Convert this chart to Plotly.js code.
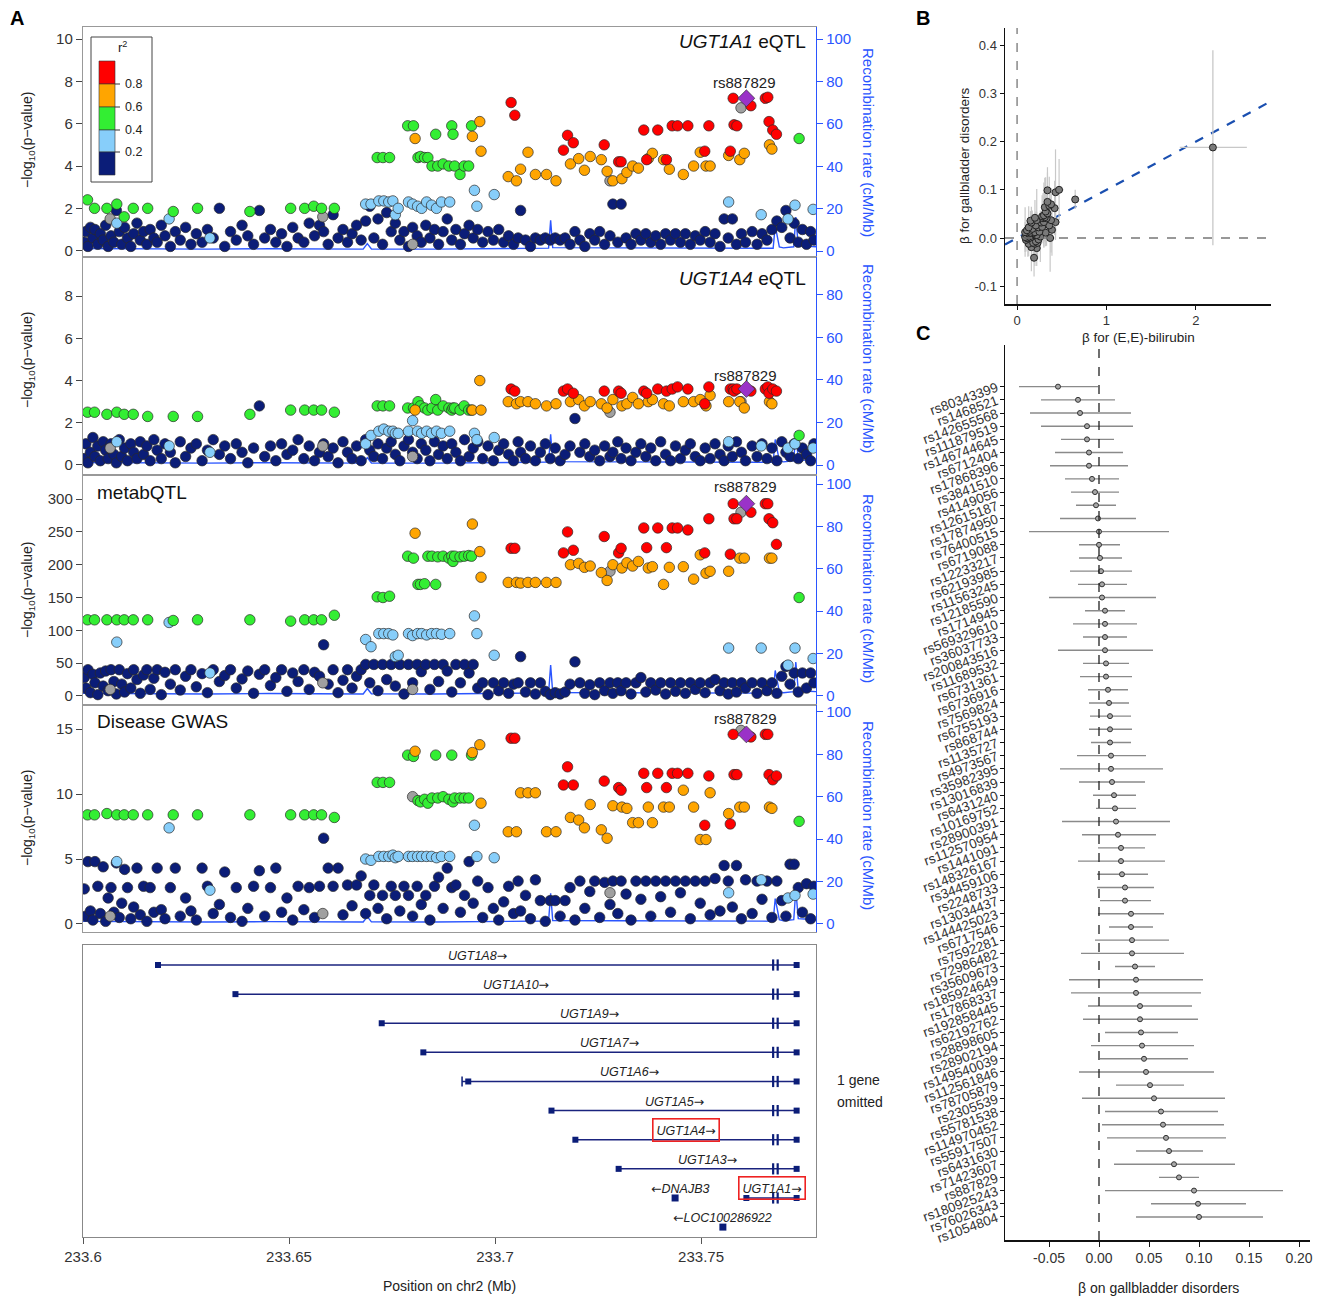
<!DOCTYPE html>
<html>
<head>
<meta charset="utf-8">
<script src="https://cdn.plot.ly/plotly-3.0.1.min.js"></script>
<style>
  html, body { margin: 0; padding: 0; background: #fff; }
  #fig { width: 1325px; height: 1298px; }
</style>
</head>
<body>
<div id="fig"></div>
<script>
// ---- Panel A: SNPs with r2 < 0.2 (navy), -log10 p per study ----
const navyPos = [
  233.6003,233.6007,233.6012,233.6018,233.6024,233.6029,233.6036,233.6042,233.6049,233.6055,
  233.6061,233.6068,233.6075,233.6081,233.6088,233.6094,233.6101,233.6108,233.6116,233.6123,
  233.6131,233.6139,233.6147,233.6155,233.6163,233.6172,233.6180,233.6190,233.6199,233.6212,
  233.6224,233.6236,233.6249,233.6262,233.6275,233.6289,233.6302,233.6316,233.6331,233.6344,
  233.6358,233.6372,233.6386,233.6400,233.6414,233.6428,233.6441,233.6455,233.6468,233.6482,
  233.6495,233.6509,233.6522,233.6536,233.6549,233.6562,233.6574,233.6584,233.6595,233.6607,
  233.6619,233.6631,233.6642,233.6653,233.6664,233.6675,233.6686,233.6696,233.6706,233.6716,
  233.6727,233.6737,233.6748,233.6758,233.6769,233.6779,233.6790,233.6800,233.6811,233.6821,
  233.6832,233.6842,233.6853,233.6863,233.6874,233.6884,233.6895,233.6905,233.6916,233.6926,
  233.6937,233.6947,233.6958,233.6970,233.6983,233.6996,233.7009,233.7021,233.7033,233.7045,
  233.7056,233.7062,233.7074,233.7086,233.7098,233.7110,233.7122,233.7134,233.7146,233.7158,
  233.7170,233.7182,233.7194,233.7206,233.7218,233.7230,233.7242,233.7254,233.7266,233.7279,
  233.7286,233.7298,233.7306,233.7318,233.7330,233.7342,233.7354,233.7366,233.7378,233.7390,
  233.7402,233.7414,233.7426,233.7438,233.7450,233.7462,233.7474,233.7486,233.7498,233.7510,
  233.7522,233.7534,233.7546,233.7556,233.7566,233.7576,233.7586,233.7598,233.7608,233.7624,
  233.7636,233.7648,233.7660,233.7672,233.7684,233.7696,233.7706,233.7716,233.7726,233.7736,
  233.7746,233.7756,233.7766,233.7774
];
const navyP1 = [
  0.4,0.9,0.2,1.1,0.6,1.0,0.3,0.8,0.5,1.2, 0.2,0.7,0.4,1.9,0.9,0.3,1.1,0.6,0.2,0.8,
  1.3,0.5,0.9,0.3,1.0,0.6,0.4,1.2,0.7,0.2, 0.9,0.5,1.1,0.3,0.8,0.4,1.0,0.6,2.0,0.2,
  0.9,0.5,1.2,0.7,0.3,1.9,0.6,1.0,0.4,0.8, 0.2,1.1,0.6,0.4,1.3,0.7,1.2,0.9,0.3,1.7,
  0.6,1.0,0.4,0.8,1.2,0.5,1.4,2.1,0.6,1.5, 0.3,1.8,0.9,1.3,0.5,0.9,0.2,1.1,0.7,0.4,
  1.2,0.6,1.0,0.3,0.9,1.5,0.5,1.0,0.3,0.8, 1.2,0.6,1.0,0.4,0.9,0.5,1.0,0.4,0.7,0.3,
  0.6,1.9,0.5,0.2,0.6,0.5,0.6,0.5,0.6,0.5, 0.6,0.3,0.9,0.5,0.2,0.8,0.5,0.9,0.3,0.7,
  2.2,0.4,2.2,0.6,0.3,0.8,0.5,0.8,0.4,0.7, 0.3,0.8,0.5,0.8,0.4,0.8,0.3,0.7,0.5,0.9,
  0.4,0.8,0.2,1.5,0.6,1.5,0.3,0.8,0.4,0.9, 0.3,0.8,0.5,1.0,1.4,1.1,1.9,0.6,1.3,0.4,
  1.0,0.3,0.9,0.5
];
const navyP2 = [
  0.3,1.0,0.1,0.6,1.3,0.4,0.9,0.2,1.1,0.7, 0.3,1.0,0.5,0.1,1.2,0.4,0.8,0.2,1.0,0.6,
  0.3,1.1,0.5,0.9,0.2,1.2,0.7,0.3,1.0,0.6, 0.1,1.1,0.4,0.8,1.0,0.2,0.7,1.2,0.5,0.9,
  0.3,1.0,0.6,0.1,0.8,2.8,0.4,0.9,0.2,1.0, 0.5,0.7,1.2,0.3,0.9,0.2,0.6,1.0,0.4,0.8,
  0.1,1.1,0.6,0.3,0.9,0.2,1.2,0.7,0.4,1.0, 0.3,0.8,1.1,0.5,0.2,0.9,1.2,0.6,0.3,1.0,
  0.7,0.2,1.1,0.5,0.9,0.3,1.0,0.6,0.2,1.2, 0.4,0.8,1.1,0.3,0.9,0.2,0.7,1.0,0.5,0.2,
  1.1,0.6,0.3,0.9,0.2,0.6,1.0,0.3,0.8,0.2, 0.5,0.9,2.2,0.6,1.0,0.4,0.7,0.2,0.9,0.4,
  0.6,1.1,0.3,0.8,0.2,0.6,1.0,0.4,0.8,0.2, 1.1,0.5,0.2,0.9,0.3,0.7,1.0,0.4,0.2,0.8,
  0.3,1.0,0.5,0.2,0.9,0.4,1.1,0.6,0.2,0.9, 0.4,1.0,0.3,0.8,0.2,1.1,0.6,0.4,1.0,0.3,
  0.8,0.5,0.2,1.0
];
const navyP3 = [
  28,12,40,5,33,20,2,35,15,38, 8,40,22,3,40,18,6,34,12,40,
  25,4,32,40,10,27,40,2,36,18, 40,9,30,40,14,34,5,40,22,31,
  40,12,26,38,4,33,40,16,28,40, 7,35,22,40,10,36,30,78,18,40,
  5,24,40,12,30,40,48,20,48,8, 48,25,48,15,48,3,48,20,48,37,
  48,10,48,22,48,38,6,48,20,48, 35,48,12,20,2,20,8,20,4,18,
  20,60,6,20,3,20,7,2,5,3, 6,18,52,20,4,17,2,20,8,20,
  4,20,8,20,3,20,28,6,20,9, 20,3,20,7,20,4,20,10,20,5,
  20,25,8,20,3,20,6,20,12,20, 4,20,8,20,4,30,45,18,35,6,
  35,12,35,20
];
const navyP4 = [
  2.7,0.6,4.8,1.0,0.3,4.8,2.9,0.8,4.4,0.2, 2.0,2.8,0.9,4.7,0.5,1.6,4.2,2.8,0.4,1.3,
  4.3,0.7,2.9,0.2,2.8,0.9,4.3,1.1,0.4,2.8, 4.3,0.6,2.0,1.0,0.3,4.3,2.9,0.8,1.5,4.0,
  0.5,2.8,0.2,1.2,2.9,4.1,0.6,2.8,4.3,0.9, 2.0,0.3,2.9,1.1,2.8,0.5,2.9,6.6,4.3,2.9,
  4.3,0.7,3.0,1.4,3.0,3.7,0.8,2.2,3.0,1.2, 2.2,0.4,2.9,2.2,1.0,2.9,2.2,0.6,2.9,1.5,
  2.2,0.3,2.9,3.6,1.2,4.3,2.8,3.0,0.9,2.2, 4.8,1.6,3.3,0.5,2.8,1.2,0.3,1.7,2.9,0.8,
  3.3,1.0,2.2,0.4,3.4,1.8,0.2,1.8,1.8,0.6, 1.8,2.8,0.3,3.3,1.2,2.5,3.3,0.5,3.2,1.5,
  3.3,0.8,3.3,2.3,0.3,3.3,1.9,3.3,0.6,3.3, 2.1,3.3,0.9,3.3,2.4,3.3,0.4,3.3,1.6,3.3,
  0.7,3.5,1.0,4.5,3.3,1.3,4.5,0.4,3.4,0.8, 3.3,1.9,3.3,0.5,3.3,1.8,0.6,4.6,4.6,2.8,
  0.9,3.1,0.4,2.9
];

// ---- Panel A: SNPs in LD with rs887829 (r = >0.8, o = 0.6-0.8, g = 0.4-0.6, l = 0.2-0.4, x = no r2) ----
const ldPos = [
  233.6011,233.6028,233.6058,233.6082,233.6100,233.6122,233.6157,233.6219,233.6278,233.6405,
  233.6504,233.6538,233.6560,233.6579,233.6610,233.6082,233.6209,233.6308,233.6714,233.6728,
  233.6744,233.6788,233.6802,233.6806,233.6813,233.6819,233.6829,233.6837,233.6847,233.6856,
  233.6861,233.6874,233.6888,233.6895,233.6898,233.6902,233.6915,233.6925,233.6936,233.6943,
  233.6945,233.6963,233.6966,233.6686,233.6699,233.6718,233.6730,233.6742,233.6752,233.6758,
  233.6765,233.6790,233.6800,233.6812,233.6822,233.6834,233.6846,233.6858,233.6870,233.6890,
  233.6950,233.6956,233.6998,233.7032,233.7039,233.7048,233.7052,233.7062,233.7080,233.7098,
  233.7125,233.7148,233.7166,233.7176,233.7183,233.7190,233.7203,233.7217,233.7231,233.7258,
  233.7265,233.7272,233.7279,233.7286,233.7300,233.7306,233.7308,233.7320,233.7334,233.7348,
  233.7361,233.7368,233.7372,233.7382,233.7395,233.7409,233.7416,233.7423,233.7430,233.7443,
  233.7457,233.7468,233.7482,233.7498,233.7509,233.7512,233.7519,233.7522,233.7567,233.7571,
  233.7578,233.7580,233.7587,233.7594,233.7597,233.7605,233.7621,233.7656,233.7662,233.7665,
  233.7666,233.7672,233.7674,233.7683,233.7738,233.7567,233.7646,233.7711,233.7728,233.7772,
  233.6066,233.6582,233.6800
];
const ldClass = ("gggggggggg" + "ggggglllgg" + "gggogggggg" + "gggggggggg" + "ooolllllll" +
  "llllllllll" + "lllorroooo" + "oorroroooo" + "roxorroooo" + "rroorororr" +
  "oroororoor" + "rrroxorrrr" + "oorrglllll" + "xxx").split("");
const ldP1 = [
  2.4,2.0,2.0,2.2,1.6,2.0,2.0,1.85,2.0,1.85, 2.0,2.0,2.1,2.0,2.0,1.3,1.5,0.6,4.4,4.4,
  4.4,5.9,5.9,5.3,4.4,4.45,4.4,4.4,4.0,5.5, 4.0,4.1,4.0,5.9,5.5,4.0,3.6,4.0,4.0,5.9,
  5.4,6.1,4.7,2.2,2.2,2.35,2.35,2.3,2.35,1.7, 2.0,2.3,2.2,2.1,2.0,2.3,2.15,2.0,2.3,2.3,
  2.85,2.1,2.65,3.5,7.0,6.4,3.3,3.85,4.65,3.6, 3.6,3.3,4.75,5.45,4.1,5.1,4.35,3.8,4.45,4.3,
  5.0,3.75,3.3,3.3,4.2,4.2,3.4,3.7,4.0,3.9, 5.7,4.3,4.35,4.6,5.7,4.3,4.3,3.85,5.9,5.9,
  3.6,5.9,4.0,4.65,4.7,4.0,5.9,4.0,4.5,4.7, 7.2,5.95,5.9,4.3,6.75,4.6,6.85,7.2,7.25,6.1,
  5.0,4.8,5.7,5.5,5.3,2.3,1.7,1.5,2.15,1.95, 1.5,1.6,0.3
];
const ldP2 = [
  2.5,2.5,2.4,2.5,2.4,2.4,2.3,2.3,2.3,2.4, 2.6,2.6,2.6,2.6,2.5,1.1,0.9,0.6,2.8,2.8,
  2.8,2.7,2.7,2.6,3.0,2.8,2.7,2.6,2.7,3.1, 2.6,2.8,2.7,2.6,2.7,2.7,2.6,2.8,2.6,2.6,
  2.6,4.0,2.6,1.0,1.4,1.6,1.7,1.6,1.6,1.5, 1.5,1.6,2.1,1.6,1.5,1.6,1.5,1.6,1.5,1.6,
  1.5,1.2,1.3,3.0,3.6,3.5,2.9,3.0,3.0,2.9, 2.8,2.9,3.5,3.6,3.0,3.4,3.1,2.8,3.0,2.9,
  3.5,2.7,2.5,3.1,3.5,3.4,2.8,2.9,3.2,2.9, 3.5,3.4,3.0,3.1,3.6,2.9,3.5,2.8,3.6,3.7,
  3.0,3.6,3.0,3.1,2.9,2.8,3.7,3.3,3.0,3.6, 3.6,3.5,3.6,3.0,3.0,2.7,3.5,3.6,3.7,3.4,
  3.0,2.9,3.6,3.5,1.4,1.1,0.9,0.8,1.0,0.8, 0.8,0.9,0.4
];
const ldP3 = [
  116,116,116,116,116,116,116,115,116,116, 114,116,116,116,123,82,112,35,151,150,
  152,213,210,248,170,170,171,213,213,170, 212,213,210,213,205,213,212,213,214,213,
  262,220,181,86,75,95,95,95,93,60, 62,95,92,95,95,93,95,95,94,95,
  122,95,62,173,225,225,173,172,173,173, 173,173,218,250,200,222,202,196,198,188,
  243,176,190,200,218,225,195,203,198,205, 256,226,195,197,256,170,226,196,256,256,
  197,253,178,215,218,187,270,190,190,216, 293,270,270,210,280,210,280,293,293,270,
  210,210,264,231,150,73,73,47,73,57, 10,20,10
];
const ldP4 = [
  8.4,8.4,8.5,8.4,8.4,8.4,8.4,8.4,8.4,8.4, 8.4,8.4,8.4,8.4,8.2,4.8,7.4,2.6,10.9,10.9,
  10.9,13.0,12.9,13.3,9.5,9.4,9.6,9.3,9.7,13.0, 9.7,9.8,9.6,13.0,9.4,9.7,9.7,9.7,9.7,13.0,
  13.2,13.8,9.3,5.0,4.9,5.2,5.2,5.2,5.3,5.1, 5.2,5.2,5.2,5.2,5.2,5.2,5.2,5.1,5.2,5.2,
  7.6,5.2,5.1,7.1,14.3,14.3,7.1,10.1,10.1,10.1, 7.1,7.1,10.7,12.1,8.2,10.7,8.0,7.4,9.2,7.25,
  11.0,6.6,2.4,9.1,10.5,10.3,9.0,8.9,7.8,7.8, 11.6,10.5,9.0,7.8,11.6,9.0,10.5,9.0,11.6,11.6,
  10.3,11.6,9.0,6.5,7.6,6.5,11.4,10.1,8.5,7.7, 14.6,11.5,11.5,9.0,14.9,9.0,14.4,14.6,14.6,11.5,
  9.0,8.9,11.1,11.4,7.9,2.4,3.4,2.0,2.2,2.3, 0.6,0.8,9.8
];

// lead SNP
const leadSnp = "rs887829";
const leadPos = 233.7610;
const leadP = [7.2, 3.6, 293, 14.6];

// recombination rate (cM/Mb)
const recombPos = [233.6000,233.6150,233.6300,233.6450,233.6600,233.6680,233.6690,233.6700,233.6850,233.7000,
  233.7130,233.7135,233.7140,233.7300,233.7450,233.7600,233.7675,233.7680,233.7690,233.7700,
  233.7725,233.7730,233.7736,233.7760,233.7779];
const recombRate = [1.2,1.0,0.9,1.1,0.8,0.9,3.5,1.0,0.9,1.3, 1.4,14.5,1.6,1.5,1.4,1.2,1.3,12.0,2.0,1.5, 2.0,16.0,2.5,2.2,2.0];

// ---- gene track ----
const geneNames = ["UGT1A8","UGT1A10","UGT1A9","UGT1A7","UGT1A6","UGT1A5","UGT1A4","UGT1A3","UGT1A1","DNAJB3","LOC100286922"];
const geneStart = [233.6182,233.6370,233.6725,233.6826,233.6920,233.7137,233.7195,233.7300,233.7610,233.7435,233.7551];
const geneEnd   = [233.7732,233.7732,233.7732,233.7732,233.7732,233.7732,233.7732,233.7732,233.7732,233.7439,233.7555];
const geneFirstExon = [233.6182,233.6370,233.6725,233.6826,233.6935,233.7137,233.7195,233.7300,233.7610,233.7437,233.7553];
const geneStrand = ["+","+","+","+","+","+","+","+","+","-","-"];
const geneRow = [1,2,3,4,5,6,7,8,9,9,10];
const sharedExons = [233.7675, 233.7686, 233.7732];
const boxedGenes = ["UGT1A4","UGT1A1"];
const posTicks = [233.6, 233.65, 233.7, 233.75];
const posTickText = ["233.6", "233.65", "233.7", "233.75"];

// ---- Panel C: per-SNP effect on gallbladder disorders (95% CI) ----
const snpIds = ["rs80343399","rs1468521","rs142655568","rs111879519","rs146744645","rs6712404","rs17868396","rs3841510","rs4149056","rs12615187",
  "rs17874950","rs76400515","rs6719088","rs12233217","rs62193985","rs11563245","rs12185590","rs1714945","rs569329610","rs36037733",
  "rs200843516","rs11689532","rs6731361","rs6736916","rs7569824","rs6755193","rs868744","rs1135727","rs4973567","rs35982395",
  "rs13016839","rs6431240","rs10169752","rs28900391","rs112570954","rs1441091","rs148326167","rs34459106","rs2248733","rs13034437",
  "rs144425023","rs6717546","rs7592281","rs72986482","rs35609673","rs185924649","rs17868337","rs192858445","rs62192762","rs28898605",
  "rs28902194","rs149540039","rs112561846","rs78705879","rs2305539","rs55781538","rs114970452","rs55917507","rs6431630","rs71423607",
  "rs887829","rs180925243","rs76026343","rs1054804"];
const gbBeta = [-0.041,-0.021,-0.019,-0.012,-0.012,-0.010,-0.010,-0.007,-0.004,-0.003,
  -0.001,0.000,0.000,0.001,0.002,0.003,0.003,0.006,0.006,0.006,
  0.006,0.007,0.007,0.009,0.010,0.011,0.011,0.011,0.012,0.012,
  0.013,0.015,0.016,0.017,0.019,0.022,0.022,0.023,0.026,0.026,
  0.032,0.032,0.033,0.033,0.036,0.037,0.037,0.041,0.041,0.042,
  0.043,0.045,0.047,0.051,0.055,0.062,0.064,0.067,0.070,0.075,
  0.080,0.095,0.099,0.100];
const gbLo = [-0.080,-0.058,-0.069,-0.058,-0.038,-0.044,-0.049,-0.034,-0.028,-0.023,
  -0.039,-0.070,-0.020,-0.020,-0.029,-0.021,-0.050,-0.014,-0.026,-0.016,
  -0.041,-0.016,-0.019,-0.011,-0.010,-0.009,-0.010,-0.008,-0.022,-0.039,
  -0.020,-0.006,-0.003,-0.037,-0.017,-0.001,-0.021,-0.002,-0.002,0.001,
  -0.001,0.010,-0.004,-0.018,0.016,-0.030,-0.028,-0.011,-0.016,0.006,
  -0.008,0.001,-0.020,0.017,-0.017,0.006,0.003,0.008,0.037,0.015,
  0.060,0.006,0.052,0.037];
const gbHi = [-0.001,0.016,0.032,0.034,0.015,0.024,0.029,0.020,0.020,0.017,
  0.037,0.070,0.021,0.023,0.033,0.028,0.057,0.026,0.038,0.028,
  0.054,0.030,0.033,0.029,0.030,0.032,0.033,0.032,0.047,0.064,
  0.046,0.037,0.037,0.071,0.057,0.046,0.066,0.049,0.055,0.052,
  0.065,0.054,0.070,0.085,0.056,0.104,0.102,0.093,0.099,0.079,
  0.095,0.089,0.115,0.085,0.126,0.119,0.125,0.127,0.104,0.136,
  0.100,0.184,0.147,0.164];
const gbTicks = [-0.05, 0, 0.05, 0.10, 0.15, 0.20];
const gbTickText = ["-0.05", "0.00", "0.05", "0.10", "0.15", "0.20"];

// ---- Panel B: effect on (E,E)-bilirubin for the same SNPs ----
const bxBeta = [0.19,0.22,0.16,0.20,0.13,0.23,0.18,0.21,0.10,0.24,
  0.12,0.37,0.11,0.15,0.09,0.17,0.26,0.11,0.14,0.19,
  0.22,0.10,0.16,0.13,0.18,0.12,0.32,0.15,0.20,0.09,
  0.25,0.14,0.11,0.39,0.17,0.24,0.13,0.28,0.21,0.36,
  0.16,0.27,0.43,0.30,0.15,0.38,0.22,0.29,0.33,0.20,
  0.31,0.28,0.30,0.34,0.32,0.42,0.31,0.36,0.38,0.34,
  0.65,0.43,0.34,0.47];
const bxSe = [0.03,0.03,0.04,0.03,0.03,0.03,0.04,0.03,0.03,0.03,
  0.04,0.05,0.02,0.03,0.03,0.02,0.04,0.03,0.02,0.03,
  0.03,0.02,0.03,0.02,0.03,0.02,0.04,0.02,0.03,0.02,
  0.03,0.02,0.02,0.05,0.03,0.03,0.02,0.04,0.03,0.04,
  0.02,0.03,0.05,0.04,0.02,0.05,0.03,0.03,0.04,0.03,
  0.03,0.03,0.04,0.04,0.03,0.05,0.03,0.04,0.04,0.03,
  0.03,0.05,0.04,0.05];
// outlying instrument
const outBx = [2.19], outBxLo = [1.82], outBxHi = [2.57];
const outGb = [0.188], outGbLo = [-0.015], outGbHi = [0.39];
const ivwSlope = 0.1;
const bRangeX = [-0.135, 2.84];
const bRangeY = [-0.137, 0.436];

// ---------------------------------------------------------------
const W = 1325, H = 1298;
const FONT = "Liberation Sans, Arial, sans-serif";
const fx = (p) => p / W;
const fy = (p) => 1 - p / H;
const domX = (a, b) => [fx(a), fx(b)];
const domY = (top, bottom) => [fy(bottom), fy(top)];
const axKey = (a) => a[0] + "axis" + a.slice(1);

const ldColors = { r: "#ff0000", o: "#ffa500", g: "#33ee33", l: "#87cefa", x: "#a0a0a0" };
const NAVY = "#0b1d78";
const RECOMB = "#2a55ff";

const locus = [
  { xa: "x",  ya: "y",  yr: "y2", top: 27,  bottom: 257, yRange: [-0.3, 10.57], rRange: [-2.8, 105.7], ticks: [0,2,4,6,8,10] },
  { xa: "x2", ya: "y3", yr: "y4", top: 257, bottom: 474, yRange: [-0.43, 9.86], rRange: [-4.2, 97.7],  ticks: [0,2,4,6,8] },
  { xa: "x3", ya: "y5", yr: "y6", top: 476, bottom: 705, yRange: [-13.8, 335.2], rRange: [-4.3, 103.8], ticks: [0,50,100,150,200,250,300] },
  { xa: "x4", ya: "y7", yr: "y8", top: 705, bottom: 932, yRange: [-0.62, 16.86], rRange: [-3.8, 103.3], ticks: [0,5,10,15] },
];
const navyVals = [navyP1, navyP2, navyP3, navyP4];
const ldVals = [ldP1, ldP2, ldP3, ldP4];
const xRangeA = [233.6, 233.7779];

function dots(x, y, color, xa, ya) {
  return {
    type: "scatter", mode: "markers", x, y, xaxis: xa, yaxis: ya, hoverinfo: "skip",
    marker: { size: 10.5, color, line: { color: "#2a2a2a", width: 0.7 } },
  };
}

const traces = [];
const layout = {
  width: W, height: H, margin: { l: 0, r: 0, t: 0, b: 0 },
  paper_bgcolor: "#fff", plot_bgcolor: "rgba(0,0,0,0)",
  showlegend: false, font: { family: FONT, color: "#222" },
  annotations: [], shapes: [],
};

locus.forEach((p, k) => {
  traces.push({
    type: "scatter", mode: "lines", x: recombPos, y: recombRate, xaxis: p.xa, yaxis: p.yr,
    line: { color: RECOMB, width: 1.4 }, hoverinfo: "skip",
  });
  traces.push(dots(navyPos, navyVals[k], NAVY, p.xa, p.ya));
  for (const c of ["x", "l", "g", "o", "r"]) {
    const xs = [], ys = [];
    ldPos.forEach((pos, i) => { if (ldClass[i] === c) { xs.push(pos); ys.push(ldVals[k][i]); } });
    traces.push(dots(xs, ys, ldColors[c], p.xa, p.ya));
  }
  traces.push({
    type: "scatter", mode: "markers", x: [leadPos], y: [leadP[k]], xaxis: p.xa, yaxis: p.ya,
    marker: { symbol: "diamond", size: 13, color: "#9a32c8", line: { color: "#333", width: 0.7 } },
  });

  layout[axKey(p.xa)] = {
    domain: domX(83, 816), range: xRangeA, anchor: p.yr,
    showline: true, mirror: true, linecolor: "#999", linewidth: 1.2,
    showgrid: false, zeroline: false, showticklabels: false, ticks: "",
  };
  layout[axKey(p.yr)] = {
    domain: domY(p.top, p.bottom), range: p.rRange, anchor: p.xa, side: "right",
    showline: true, linecolor: RECOMB, linewidth: 1.2, ticks: "outside", ticklen: 6, tickcolor: RECOMB,
    tickvals: [0,20,40,60,80,100], tickfont: { family: FONT, size: 15, color: RECOMB },
    showgrid: false, zeroline: false,
  };
  layout[axKey(p.ya)] = {
    overlaying: p.yr, range: p.yRange, anchor: p.xa, side: "left",
    showline: true, linecolor: "#999", linewidth: 1.2, ticks: "outside", ticklen: 6, tickcolor: "#444",
    tickvals: p.ticks, tickfont: { family: FONT, size: 15, color: "#333" },
    showgrid: false, zeroline: false,
  };
});

// ---- gene track ----
const ARROW = "<span style='font-family:DejaVu Sans'>→</span>";
const LARROW = "<span style='font-family:DejaVu Sans'>←</span>";
geneNames.forEach((g, i) => {
  const isUgt = g.startsWith("UGT1A");
  if (isUgt) {
    traces.push({
      type: "scatter", mode: "lines", x: [geneStart[i], geneEnd[i]], y: [geneRow[i], geneRow[i]],
      xaxis: "x5", yaxis: "y9", line: { color: "#1a237e", width: 1.5 }, hoverinfo: "skip",
    });
    traces.push({
      type: "scatter", mode: "markers", x: [geneFirstExon[i], sharedExons[2]], y: [geneRow[i], geneRow[i]],
      xaxis: "x5", yaxis: "y9", marker: { symbol: "square", size: 6, color: "#0b1d78" }, hoverinfo: "skip",
    });
    traces.push({
      type: "scatter", mode: "markers", x: sharedExons.slice(0, 2), y: [geneRow[i], geneRow[i]],
      xaxis: "x5", yaxis: "y9", marker: { symbol: "line-ns", size: 8, line: { color: "#0b1d78", width: 2.2 } },
      hoverinfo: "skip",
    });
    if (geneStart[i] < geneFirstExon[i]) {
      traces.push({
        type: "scatter", mode: "markers", x: [geneStart[i]], y: [geneRow[i]],
        xaxis: "x5", yaxis: "y9", marker: { symbol: "line-ns", size: 7, line: { color: "#0b1d78", width: 1.5 } },
        hoverinfo: "skip",
      });
    }
  } else {
    traces.push({
      type: "scatter", mode: "markers", x: [geneFirstExon[i]], y: [geneRow[i]],
      xaxis: "x5", yaxis: "y9", marker: { symbol: "square", size: 7, color: "#0b1d78" }, hoverinfo: "skip",
    });
  }
  const name = "<i>" + g + "</i>";
  const label = geneStrand[i] === "+" ? name + ARROW : LARROW + name;
  const boxed = boxedGenes.includes(g);
  layout.annotations.push({
    text: label, x: (geneStart[i] + geneEnd[i]) / 2 + (g === "DNAJB3" ? 0.0012 : 0),
    y: geneRow[i] - 0.33, xref: "x5", yref: "y9", xanchor: "center", yanchor: "middle",
    showarrow: false, font: { family: FONT, size: 12.5, color: "#222" },
    bordercolor: boxed ? "#ee2222" : "rgba(0,0,0,0)", borderwidth: boxed ? 1.6 : 0, borderpad: 3,
  });
});
layout.xaxis5 = {
  domain: domX(83, 816), range: xRangeA, anchor: "y9",
  showline: true, mirror: true, linecolor: "#888", linewidth: 1.2,
  ticks: "outside", ticklen: 6, tickcolor: "#555", tickvals: posTicks, ticktext: posTickText,
  tickfont: { family: FONT, size: 15, color: "#333" }, showgrid: false, zeroline: false,
};
layout.yaxis9 = {
  domain: domY(945, 1237), range: [10.34, 0.313], anchor: "x5",
  showline: true, mirror: true, linecolor: "#888", linewidth: 1.2,
  showticklabels: false, ticks: "", showgrid: false, zeroline: false,
};

// ---- Panel B ----
traces.push({
  type: "scatter", mode: "lines", x: bRangeX, y: bRangeX.map((v) => v * ivwSlope),
  xaxis: "x6", yaxis: "y10", line: { color: "#1a4fb0", width: 2.2, dash: "dash" }, hoverinfo: "skip",
});
traces.push({
  type: "scatter", mode: "markers", x: outBx, y: outGb, xaxis: "x6", yaxis: "y10",
  error_x: { type: "data", symmetric: false, array: [outBxHi[0] - outBx[0]], arrayminus: [outBx[0] - outBxLo[0]], color: "#c8c8c8", thickness: 1.3, width: 0 },
  error_y: { type: "data", symmetric: false, array: [outGbHi[0] - outGb[0]], arrayminus: [outGb[0] - outGbLo[0]], color: "#c8c8c8", thickness: 1.3, width: 0 },
  marker: { size: 7, color: "#7a7a7a", line: { color: "#222", width: 1 } },
});
traces.push({
  type: "scatter", mode: "markers", x: bxBeta, y: gbBeta, xaxis: "x6", yaxis: "y10",
  error_x: { type: "data", array: bxSe, color: "#c8c8c8", thickness: 1.2, width: 0 },
  error_y: { type: "data", symmetric: false, array: gbHi.map((h, i) => h - gbBeta[i]),
    arrayminus: gbLo.map((l, i) => gbBeta[i] - l), color: "#c8c8c8", thickness: 1.2, width: 0 },
  marker: { size: 7, color: "#7a7a7a", line: { color: "#222", width: 1 } },
});
layout.xaxis6 = {
  domain: domX(1005, 1271), range: bRangeX, anchor: "y10",
  showline: true, linecolor: "#111", linewidth: 1.5, ticks: "outside", ticklen: 4, tickcolor: "#111",
  tickvals: [0, 1, 2], tickfont: { family: FONT, size: 13, color: "#333" }, showgrid: false, zeroline: false,
};
layout.yaxis10 = {
  domain: domY(28, 304), range: bRangeY, anchor: "x6",
  showline: true, linecolor: "#111", linewidth: 1.5, ticks: "outside", ticklen: 4, tickcolor: "#111",
  tickvals: [-0.1, 0, 0.1, 0.2, 0.3, 0.4], ticktext: ["-0.1", "0.0", "0.1", "0.2", "0.3", "0.4"],
  tickfont: { family: FONT, size: 13, color: "#333" }, showgrid: false, zeroline: false,
};
layout.shapes.push(
  { type: "line", xref: "x6", yref: "y10 domain", x0: 0, x1: 0, y0: 0, y1: 1, line: { color: "#777", width: 1.3, dash: "dash" } },
  { type: "line", xref: "x6 domain", yref: "y10", x0: 0, x1: 1, y0: 0, y1: 0, line: { color: "#777", width: 1.3, dash: "dash" } }
);

// ---- Panel C ----
const rowIdx = snpIds.map((_, i) => i + 1);
traces.push({
  type: "scatter", mode: "markers", x: gbBeta, y: rowIdx, xaxis: "x7", yaxis: "y11",
  error_x: { type: "data", symmetric: false, array: gbHi.map((h, i) => h - gbBeta[i]),
    arrayminus: gbLo.map((l, i) => gbBeta[i] - l), color: "#8a8a8a", thickness: 1.4, width: 0 },
  marker: { size: 5, color: "#a8a8a8", line: { color: "#333", width: 1 } },
});
layout.xaxis7 = {
  domain: domX(1005, 1310), range: [-0.094, 0.211], anchor: "y11",
  showline: true, linecolor: "#111", linewidth: 1.5, ticks: "outside", ticklen: 5, tickcolor: "#111",
  tickvals: gbTicks, ticktext: gbTickText, tickfont: { family: FONT, size: 14, color: "#333" },
  showgrid: false, zeroline: false,
};
layout.yaxis11 = {
  domain: domY(345, 1240), range: [65.75, -2.16], anchor: "x7",
  showline: true, linecolor: "#111", linewidth: 1.5, ticks: "outside", ticklen: 4, tickcolor: "#111",
  tickvals: rowIdx, ticktext: snpIds, tickangle: -20,
  tickfont: { family: FONT, size: 13.5, color: "#333" }, showgrid: false, zeroline: false,
};
layout.shapes.push({ type: "line", xref: "x7", yref: "y11 domain", x0: 0, x1: 0, y0: 0, y1: 1, line: { color: "#222", width: 1.3, dash: "dash" } });

// ---- text helper ----
function note(text, px, py, opt) {
  return Object.assign({ text, x: fx(px), y: fy(py), xref: "paper", yref: "paper", showarrow: false,
    xanchor: "center", yanchor: "middle",
    font: { family: FONT, size: 14, color: "#222" } }, opt || {});
}

// ---- r2 legend in the first panel ----
const legendColors = ["#ff0000", "#ffa500", "#33ee33", "#87cefa", NAVY];
const legendEdges = [61, 84, 107, 130, 152, 175];
const legendLabels = ["0.8", "0.6", "0.4", "0.2"];
layout.shapes.push({ type: "rect", xref: "paper", yref: "paper", x0: fx(91), x1: fx(152), y0: fy(182), y1: fy(37),
  fillcolor: "#fff", line: { color: "#444", width: 1 }, layer: "above" });
legendColors.forEach((c, i) => {
  layout.shapes.push({ type: "rect", xref: "paper", yref: "paper", x0: fx(99), x1: fx(115),
    y0: fy(legendEdges[i + 1]), y1: fy(legendEdges[i]), fillcolor: c, line: { color: "#333", width: 0.6 }, layer: "above" });
});
legendLabels.forEach((t, i) => {
  const yy = legendEdges[i + 1];
  layout.shapes.push({ type: "line", xref: "paper", yref: "paper", x0: fx(115), x1: fx(120), y0: fy(yy), y1: fy(yy),
    line: { color: "#333", width: 1 }, layer: "above" });
  layout.annotations.push(note(t, 123, yy, { xanchor: "left", font: { family: FONT, size: 12.5, color: "#222" } }));
});
layout.annotations.push(note("r<sup>2</sup>", 122, 47, { font: { family: FONT, size: 13, color: "#222" } }));

// ---- text ----
const big = { family: FONT, size: 19, color: "#111" };
layout.annotations.push(
  note("<b>A</b>", 17, 18, { font: { family: FONT, size: 20, color: "#000" } }),
  note("<b>B</b>", 923, 18, { font: { family: FONT, size: 20, color: "#000" } }),
  note("<b>C</b>", 923, 333, { font: { family: FONT, size: 20, color: "#000" } }),
  note("<i>UGT1A1</i> eQTL", 808, 42, { xanchor: "right", font: big }),
  note("<i>UGT1A4</i> eQTL", 808, 279, { xanchor: "right", font: big }),
  note("metabQTL", 95, 492, { xanchor: "left", font: big }),
  note("Disease GWAS", 95, 721, { xanchor: "left", font: big }),
  note(leadSnp, 744, 83, { font: { family: FONT, size: 15, color: "#222" } }),
  note(leadSnp, 745, 375, { font: { family: FONT, size: 15, color: "#222" } }),
  note(leadSnp, 745, 487, { font: { family: FONT, size: 15, color: "#222" } }),
  note(leadSnp, 745, 718, { font: { family: FONT, size: 15, color: "#222" } }),
  note("1 gene", 835, 1080, { xanchor: "left" }),
  note("omitted", 835, 1102, { xanchor: "left" }),
  note("Position on chr2 (Mb)", 449, 1286),
  note("β for (E,E)-bilirubin", 1138, 337, { font: { family: FONT, size: 13.5, color: "#222" } }),
  note("β for gallbladder disorders", 964, 166, { textangle: -90, font: { family: FONT, size: 13.5, color: "#222" } }),
  note("β on gallbladder disorders", 1158, 1288)
);
[140, 360, 590, 818].forEach((cy) => {
  layout.annotations.push(note("−log<sub>10</sub>(p−value)", 28, cy, { textangle: -90 }));
});
[142, 358, 588, 815].forEach((cy) => {
  layout.annotations.push(note("Recombination rate (cM/Mb)", 869, cy, { textangle: 90, font: { family: FONT, size: 15, color: RECOMB } }));
});

Plotly.newPlot("fig", traces, layout, { staticPlot: true, displayModeBar: false });
</script>
</body>
</html>
